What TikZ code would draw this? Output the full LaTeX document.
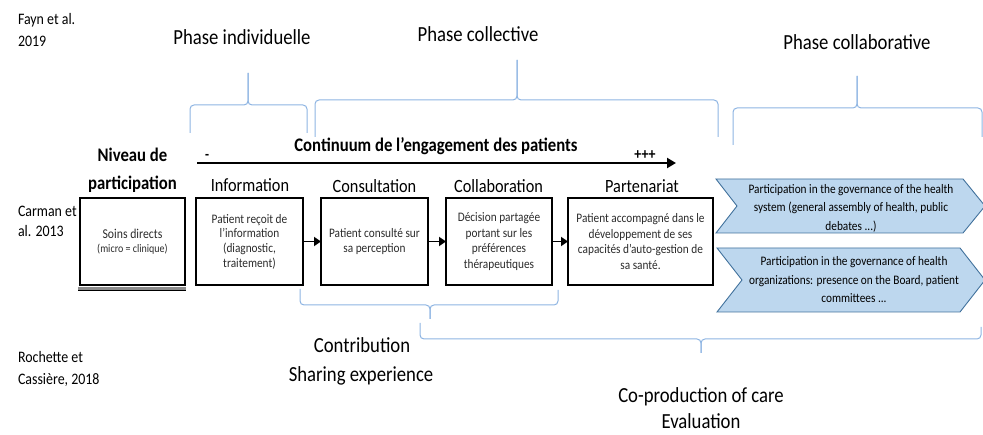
\documentclass[tikz,border=0pt]{standalone}
\usepackage{fontspec}
\setmainfont{Carlito}[FakeStretch=0.87]
\usetikzlibrary{arrows.meta}
\definecolor{bracecol}{HTML}{8DB4E2}
\definecolor{chevfill}{HTML}{BDD7EE}
\definecolor{chevline}{HTML}{41719C}
\definecolor{boxtxt}{HTML}{2B2B2B}
\definecolor{bandgray}{HTML}{8C8C8C}
\begin{document}
\begin{tikzpicture}[x=1pt,y=-1pt,
  every node/.style={inner sep=0pt,outer sep=0pt},
  bracket/.style={draw=bracecol,line width=1pt,rounded corners=4pt},
  phaselabel/.style={font=\fontsize{21.5}{24}\selectfont,anchor=base},
  reftext/.style={font=\fontsize{16}{20}\selectfont,anchor=base west},
  stagehead/.style={font=\fontsize{18.7}{20}\selectfont,anchor=base},
  boldhead/.style={font=\bfseries\fontsize{19.2}{22}\selectfont,anchor=base},
  stagebox/.style={draw=black,line width=1.8pt,align=center,text=boxtxt,font=\fontsize{13}{15.5}\selectfont,minimum height=87pt},
  flowarrow/.style={draw=black,line width=1.8pt,-{Triangle[length=7pt,width=9pt]}},
  chevshape/.style={fill=chevfill,draw=chevline,line width=0.9pt,line join=miter},
  chevtext/.style={align=center,font=\fontsize{13}{18.5}\selectfont},
]
\useasboundingbox (0,0) rectangle (983,435);

% reference authors
\node[reftext] (fayn1) at (18,25) {Fayn et al.};
\node[reftext] (fayn2) at (18,47) {2019};
\node[reftext] (carman1) at (18,217) {Carman et};
\node[reftext] (carman2) at (18,237) {al. 2013};
\node[reftext] (roch1) at (18,363) {Rochette et};
\node[reftext] (roch2) at (18,385) {Cassière, 2018};

% phase labels
\node[phaselabel] (pind) at (242,45) {Phase individuelle};
\node[phaselabel] (pcol) at (478,42) {Phase collective};
\node[phaselabel] (pcolab) at (857,50) {Phase collaborative};

% upper braces
\draw[bracket] (190,133) -- (190,105) -- (248,105) -- (248,73);
\draw[bracket] (248,73) -- (248,105) -- (307,105) -- (307,133);
\draw[bracket] (315,137) -- (315,100) -- (517,100) -- (517,60);
\draw[bracket] (517,60) -- (517,100) -- (718,100) -- (718,137);
\draw[bracket] (733,145) -- (733,108) -- (857,108) -- (857,76);
\draw[bracket] (857,76) -- (857,108) -- (982,108) -- (982,137);

% lower braces
\draw[bracket] (300,289) -- (300,305) -- (430,305) -- (430,319);
\draw[bracket] (430,319) -- (430,305) -- (558,305) -- (558,290);
\draw[bracket] (420,323) -- (420,339) -- (701,339) -- (701,353);
\draw[bracket] (701,353) -- (701,339) -- (981,339) -- (981,327);

% continuum
\node[boldhead] (cont) at (436,152) {Continuum de l’engagement des patients};
\coordinate (arrS) at (197,163);
\coordinate (arrE) at (676,163);
\draw[line width=2.2pt,-{Triangle[length=9pt,width=10pt]}] (arrS) -- (arrE);
\node[font=\bfseries\fontsize{15}{15}\selectfont,anchor=base] (minus) at (207,160) {-};
\node[font=\bfseries\fontsize{16}{16}\selectfont,anchor=base] (plus) at (645,160) {+++};

% niveau
\node[boldhead] (niv1) at (132.5,162) {Niveau de};
\node[boldhead] (niv2) at (132.5,190) {participation};
\node[stagebox,minimum width=105pt] (niv) at (132.5,241.5)
  {{\fontsize{13.5}{15}\selectfont Soins directs}\\[-1.5pt]{\fontsize{11.5}{14}\selectfont (micro = clinique)}};
\draw[bandgray,line width=3pt] ([xshift=-2pt,yshift=-3.5pt]niv.south west) -- ([xshift=1pt,yshift=-3.5pt]niv.south east);
\draw[black,line width=1pt] ([xshift=-2pt,yshift=-5.5pt]niv.south west) -- ([xshift=1pt,yshift=-5.5pt]niv.south east);

% stage headings
\node[stagehead] (infoT) at (250,192) {Information};
\node[stagehead] (consT) at (374.5,193) {Consultation};
\node[stagehead] (collT) at (498.5,193) {Collaboration};
\node[stagehead] (partT) at (642,193) {Partenariat};

% stage boxes
\node[stagebox,minimum width=107pt,font=\fontsize{13}{14.7}\selectfont] (info) at (249.5,241.5)
  {Patient reçoit de\\l’information\\(diagnostic,\\traitement)};
\node[stagebox,minimum width=107pt] (cons) at (374.5,241.5)
  {Patient consulté sur\\sa perception};
\node[stagebox,minimum width=106pt] (coll) at (499,241.5)
  {Décision partagée\\portant sur les\\préférences\\thérapeutiques};
\node[stagebox,minimum width=145pt] (part) at (640.5,241.5)
  {Patient accompagné dans le\\développement de ses\\capacités d’auto-gestion de\\sa santé.};

\draw[flowarrow] (info) -- (cons);
\draw[flowarrow] (cons) -- (coll);
\draw[flowarrow] (coll) -- (part);

% chevrons
\path[chevshape] (716,179) -- (963,179) -- (985,206) -- (963,233) -- (716,233) -- (737,206) -- cycle;
\path[chevshape] (717,248) -- (960,248) -- (985,280) -- (960,312) -- (717,312) -- (742,280) -- cycle;
\node[chevtext] (chev1) at (851,208)
  {Participation in the governance of the health\\system (general assembly of health, public\\debates ...)};
\node[chevtext] (chev2) at (854,280)
  {Participation in the governance of health\\organizations: presence on the Board, patient\\committees ...};

% lower labels
\node[phaselabel] (contrib1) at (362,353) {Contribution};
\node[phaselabel] (contrib2) at (361,382) {Sharing experience};
\node[phaselabel] (coprod1) at (701,403) {Co-production of care};
\node[phaselabel] (coprod2) at (701,429) {Evaluation};
\end{tikzpicture}
\end{document}
